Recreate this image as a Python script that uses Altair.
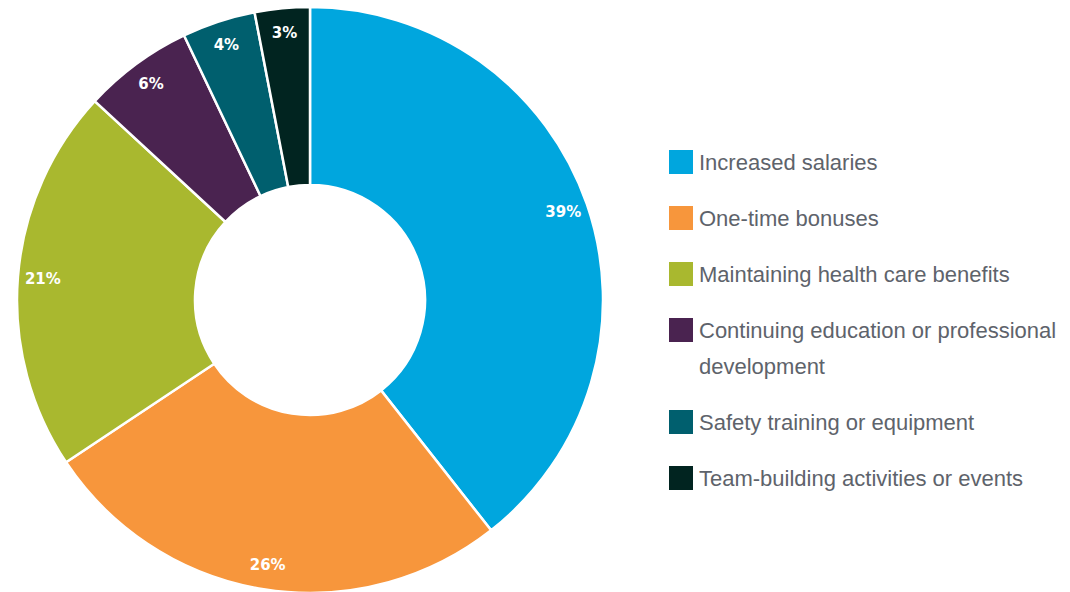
import altair as alt
import numpy as np
import pandas as pd

categories = [
    "Increased salaries",
    "One-time bonuses",
    "Maintaining health care benefits",
    "Continuing education or professional development",
    "Safety training or equipment",
    "Team-building activities or events",
]
legend_labels = [
    "Increased salaries",
    "One-time bonuses",
    "Maintaining health care benefits",
    "Continuing education or professional\ndevelopment",
    "Safety training or equipment",
    "Team-building activities or events",
]
values = [39, 26, 21, 6, 4, 3]
colors = ["#00a6de", "#f7963c", "#a9b82f", "#4a2350", "#005f6e", "#012420"]

df = pd.DataFrame({
    "category": categories,
    "value": values,
    "order": list(range(len(categories))),
    "label": [f"{v}%" for v in values],
})

# legend rows: extra line height of multi-line labels shifts following rows
lines = np.array([lab.count("\n") + 1 for lab in legend_labels])
extra_before = np.concatenate([[0], np.cumsum(lines - 1)[:-1]])
slot = np.arange(len(legend_labels)) + extra_before * (36 / 56)
leg = pd.DataFrame({"category": categories, "legend_label": legend_labels, "slot": slot})

color = alt.Color(
    "category:N",
    scale=alt.Scale(domain=categories, range=colors),
    legend=None,
)

CX, CY = 310, 300

arcs = alt.Chart(df).mark_arc(
    outerRadius=293, innerRadius=115, stroke="white", strokeWidth=2.5
).encode(
    theta=alt.Theta("value:Q", stack=True),
    color=color,
    order=alt.Order("order:Q"),
    x=alt.value(CX),
    y=alt.value(CY),
)

labels = alt.Chart(df).mark_text(
    radius=268, font="DejaVu Sans", fontWeight="bold", fontSize=15, color="white"
).encode(
    theta=alt.Theta("value:Q", stack=True),
    text="label:N",
    order=alt.Order("order:Q"),
    x=alt.value(CX),
    y=alt.value(CY),
)

yscale = alt.Scale(domain=[0, float(slot.max())], range=[162, 162 + 56 * float(slot.max())])

squares = alt.Chart(leg).mark_square(size=576, opacity=1).encode(
    x=alt.value(681),
    y=alt.Y("slot:Q", scale=yscale, axis=None),
    color=color,
)

texts = alt.Chart(leg).mark_text(
    align="left", baseline="alphabetic", dy=8, lineBreak="\n", lineHeight=36,
    font="Liberation Sans", fontSize=22, color="#5e636b",
).encode(
    x=alt.value(699),
    y=alt.Y("slot:Q", scale=yscale, axis=None),
    text="legend_label:N",
)

chart = alt.layer(arcs, labels, squares, texts).properties(
    width=1070, height=592, padding=0,
    autosize=alt.AutoSizeParams(type="none"),
    background="white",
).configure_view(stroke=None)

chart.save("out.html", embed_options={"renderer": "svg", "actions": False})
